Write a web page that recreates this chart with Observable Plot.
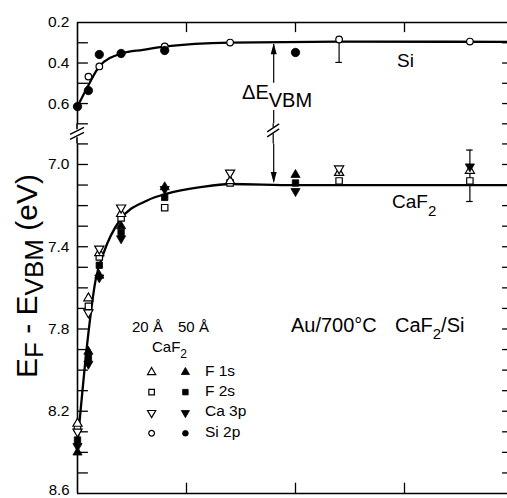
<!DOCTYPE html>
<html><head><meta charset="utf-8">
<script src="https://cdn.jsdelivr.net/npm/d3@7"></script>
<script src="https://cdn.jsdelivr.net/npm/@observablehq/plot@0.6"></script>
<style>
html,body{margin:0;padding:0;background:#fff;overflow:hidden}
#chart svg{display:block}
</style></head><body><div id="chart"></div>
<script>
// ---------------- data ----------------
// Si 2p (upper panel)
const siOpenX   = [0.1, 0.2, 0.8, 1.4, 2.4, 3.6];
const siOpenY   = [0.467, 0.417, 0.318, 0.299, 0.284, 0.294];
const siFilledX = [0, 0.1, 0.2, 0.4, 0.8, 2.0];
const siFilledY = [0.615, 0.536, 0.358, 0.353, 0.338, 0.348];
const siCurveX  = [0, 0.1, 0.2, 0.41, 0.6, 0.81, 1.4, 2.4, 4.0];
const siCurveY  = [0.615, 0.51, 0.417, 0.352, 0.335, 0.318, 0.299, 0.294, 0.296];
const siErrX    = [2.4];
const siErrLow  = [0.284];
const siErrHigh = [0.397];

// CaF2 (lower panel) - 20 Å open, 50 Å filled
const f1s20X  = [0, 0.1, 0.2, 0.4, 1.4, 2.4, 3.6];
const f1s20Y  = [8.26, 7.65, 7.43, 7.24, 7.08, 7.04, 7.03];
const f2s20X  = [0, 0.1, 0.2, 0.4, 0.8, 1.4, 2.4, 3.6];
const f2s20Y  = [8.28, 7.69, 7.45, 7.26, 7.21, 7.09, 7.08, 7.08];
const ca3p20X = [0, 0.1, 0.2, 0.4, 1.4, 2.4];
const ca3p20Y = [8.30, 7.72, 7.41, 7.21, 7.04, 7.02];
const f1s50X  = [0, 0.1, 0.2, 0.4, 0.8, 2.0];
const f1s50Y  = [8.40, 7.91, 7.54, 7.30, 7.11, 7.05];
const f2s50X  = [0, 0.1, 0.2, 0.4, 0.8, 2.0];
const f2s50Y  = [8.34, 7.94, 7.49, 7.33, 7.16, 7.09];
const ca3p50X = [0, 0.1, 0.2, 0.4, 0.8, 2.0, 3.6];
const ca3p50Y = [8.37, 7.97, 7.55, 7.36, 7.12, 7.13, 7.01];
const cafCurveX = [0, 0.1, 0.165, 0.24, 0.39, 0.64, 0.83, 1.13, 1.4, 2.0, 4.0];
const cafCurveY = [8.36, 7.82, 7.565, 7.43, 7.27, 7.175, 7.14, 7.11, 7.095, 7.10, 7.10];
const cafErrX    = [3.6];
const cafErrLow  = [6.93];
const cafErrHigh = [7.18];

// axis ticks
const yTicks  = [0.3, 0.4, 0.5, 0.6, 0.7, 6.9, 7.0, 7.1, 7.2, 7.3, 7.4, 7.5, 7.6, 7.7, 7.8, 7.9, 8.0, 8.1, 8.2, 8.3, 8.4, 8.5];
const yLabels = [0.2, 0.4, 0.6, 7.0, 7.4, 7.8, 8.2, 8.6];
const xTicks  = [1, 2, 3];

// legend
const legendCols = ["20 Å", "50 Å"];
const legendRows = ["F 1s", "F 2s", "Ca 3p", "Si 2p"];

// ---------------- broken y axis: map the two segments onto one linear scale ----------------
const T = v => v < 3 ? v : 0.7992 + (v - 6.9) * 1.0148;
const X_DOMAIN = [0, 4], X_RANGE = [77, 513];
const Y_DOMAIN = [0.2, T(8.6)], Y_RANGE = [22, 493];
const xs = d3.scaleLinear(X_DOMAIN, X_RANGE);
const ylin = d3.scaleLinear(Y_DOMAIN, Y_RANGE);
const ys = v => ylin(T(v));

const FONT = '"Liberation Sans", Arial, Helvetica, sans-serif';
const zip = (a, b) => a.map((x, i) => ({x, y: b[i]}));
const Y = d => T(d.y);

const triangleDown = {draw(ctx, size) {
  const y = -Math.sqrt(size / (Math.sqrt(3) * 3));
  ctx.moveTo(0, -y * 2);
  ctx.lineTo(-Math.sqrt(3) * y, y);
  ctx.lineTo(Math.sqrt(3) * y, y);
  ctx.closePath();
}};
const arrowUp = {draw(ctx) { ctx.moveTo(0, 0); ctx.lineTo(-3, 11); ctx.lineTo(3, 11); ctx.closePath(); }};
const arrowDown = {draw(ctx) { ctx.moveTo(0, 0); ctx.lineTo(-3, -11); ctx.lineTo(3, -11); ctx.closePath(); }};

const open = {fill: "white", stroke: "black", strokeWidth: 1.2};
const full = {fill: "black", stroke: "black", strokeWidth: 0.8};
const LW = 1.6;

// legend symbol placement (data units)
const legX = [0.68, 0.99];
const legY = [8.01, 8.107, 8.208, 8.307];
const legSym = [["triangle", "triangle"], ["square", "square"], [triangleDown, triangleDown], ["circle", "circle"]];
const legR = [3.4, 3.6, 3.4, 3.0];
const legendDots = [];
legSym.forEach((row, i) => row.forEach((s, j) => legendDots.push({x: legX[j], y: legY[i], s, filled: j === 1, r: legR[i]})));

const plot = Plot.plot({
  width: 507, height: 498, margin: 0,
  style: {fontFamily: FONT, background: "white", color: "black"},
  x: {domain: X_DOMAIN, range: X_RANGE, axis: null},
  y: {domain: Y_DOMAIN, range: Y_RANGE, axis: null},
  marks: [
    // frame
    Plot.ruleY([0.2, 8.6], {y: d => T(d), x1: 0, x2: 4, stroke: "black", strokeWidth: LW}),
    Plot.ruleX([0], {y1: T(0.2), y2: T(0.7), stroke: "black", strokeWidth: LW}),
    Plot.ruleX([0], {y1: T(6.9), y2: T(8.6), stroke: "black", strokeWidth: LW}),
    Plot.ruleX([4], {y1: T(0.2), y2: T(8.6), stroke: "black", strokeWidth: LW}),
    // ticks
    Plot.ruleY(yTicks, {y: d => T(d), x1: 0, x2: 0.1, stroke: "black", strokeWidth: 1.3}),
    Plot.ruleY(yTicks, {y: d => T(d), x1: 3.9, x2: 4, stroke: "black", strokeWidth: 1.3}),
    Plot.ruleX(xTicks, {y1: T(0.2), y2: T(0.25), stroke: "black", strokeWidth: 1.3}),
    Plot.ruleX(xTicks, {y1: T(8.55), y2: T(8.6), stroke: "black", strokeWidth: 1.3}),
    Plot.text(yLabels.slice(0, -1), {x: 0, y: d => T(d), text: d => d.toFixed(1), textAnchor: "end", dx: -8, fontSize: 15.5, fill: "black"}),
    Plot.text(yLabels.slice(-1), {x: 0, y: d => T(d), text: d => d.toFixed(1), textAnchor: "end", dx: -8, dy: -3, fontSize: 15, fill: "black"}),
    // curves
    Plot.line(zip(siCurveX, siCurveY), {x: "x", y: Y, curve: "monotone-x", stroke: "black", strokeWidth: 2.3}),
    Plot.line(zip(cafCurveX, cafCurveY), {x: "x", y: Y, curve: "monotone-x", stroke: "black", strokeWidth: 2.3}),
    // error bars
    Plot.ruleX(siErrX.map((x, i) => ({x, y1: siErrLow[i], y2: siErrHigh[i]})), {x: "x", y1: d => T(d.y1), y2: d => T(d.y2), strokeWidth: 1.2}),
    Plot.ruleY(siErrX.map((x, i) => ({x, y: siErrHigh[i]})), {y: Y, x1: d => d.x - 0.03, x2: d => d.x + 0.03, strokeWidth: 1.2}),
    Plot.ruleX(cafErrX.map((x, i) => ({x, y1: cafErrLow[i], y2: cafErrHigh[i]})), {x: "x", y1: d => T(d.y1), y2: d => T(d.y2), strokeWidth: 1.2}),
    Plot.ruleY(cafErrX.flatMap((x, i) => [{x, y: cafErrLow[i]}, {x, y: cafErrHigh[i]}]), {y: Y, x1: d => d.x - 0.03, x2: d => d.x + 0.03, strokeWidth: 1.2}),
    // data symbols
    Plot.dot(zip(siOpenX, siOpenY), {x: "x", y: Y, symbol: "circle", r: 3.3, ...open}),
    Plot.dot(zip(siFilledX, siFilledY), {x: "x", y: Y, symbol: "circle", r: 4.2, ...full}),
    Plot.dot(zip(f2s20X, f2s20Y), {x: "x", y: Y, symbol: "square", r: 3.6, ...open}),
    Plot.dot(zip(f1s20X, f1s20Y), {x: "x", y: Y, symbol: "triangle", r: 3.4, ...open}),
    Plot.dot(zip(ca3p20X, ca3p20Y), {x: "x", y: Y, symbol: triangleDown, r: 3.4, ...open}),
    Plot.dot(zip(f2s50X, f2s50Y), {x: "x", y: Y, symbol: "square", r: 3.6, ...full}),
    Plot.dot(zip(f1s50X, f1s50Y), {x: "x", y: Y, symbol: "triangle", r: 3.4, ...full}),
    Plot.dot(zip(ca3p50X, ca3p50Y), {x: "x", y: Y, symbol: triangleDown, r: 3.4, ...full}),
    // ΔE arrow (shafts + heads)
    Plot.ruleX([1.8], {y1: T(0.309), y2: T(0.5), strokeWidth: 1.2}),
    Plot.ruleX([1.8], {y1: T(0.634), y2: T(0.7), strokeWidth: 1.2}),
    Plot.ruleX([1.8], {y1: T(6.9), y2: T(7.085), strokeWidth: 1.2}),
    Plot.dot([{x: 1.8, y: 0.303}], {x: "x", y: Y, symbol: arrowUp, fill: "black", stroke: "none"}),
    Plot.dot([{x: 1.8, y: 7.09}], {x: "x", y: Y, symbol: arrowDown, fill: "black", stroke: "none"}),
    // legend symbols
    Plot.dot(legendDots.filter(d => !d.filled), {x: "x", y: Y, symbol: "s", r: "r", ...open}),
    Plot.dot(legendDots.filter(d => d.filled), {x: "x", y: Y, symbol: "s", r: "r", ...full})
  ]
});
document.getElementById("chart").appendChild(plot);

// ---------------- annotations (text with subscripts, axis breaks) ----------------
const svg = d3.select(plot);
const g = svg.append("g").attr("font-family", FONT).attr("fill", "black");

function label(x, y, parts, size, opts = {}) {
  const t = g.append("text").attr("x", x).attr("y", y).attr("font-size", size)
    .attr("text-anchor", opts.anchor || "start");
  if (opts.transform) t.attr("transform", opts.transform);
  let shift = 0;
  parts.forEach(p => {
    const s = t.append("tspan").text(p.t);
    const want = p.sub || 0;
    if (want !== shift) { s.attr("dy", want - shift); shift = want; }
    if (p.size) s.attr("font-size", p.size);
    if (p.dx) s.attr("dx", p.dx);
  });
  return t;
}

label(xs(2.936), ys(0.422), [{t: "Si"}], 19);
label(xs(2.89), ys(7.214), [{t: "CaF"}, {t: "2", sub: 8, size: 15}], 19);
label(xs(1.514), ys(0.58), [{t: "ΔE"}, {t: "VBM", sub: 8}], 20);
label(xs(1.963), ys(7.817), [{t: "Au/700°C"}], 20);
label(xs(2.917), ys(7.817), [{t: "CaF"}, {t: "2", sub: 7, size: 15}, {t: "/Si", sub: 0}], 20);

// legend texts
label(xs(0.505), ys(7.817), [{t: legendCols[0]}], 15);
label(xs(0.927), ys(7.817), [{t: legendCols[1]}], 15);
label(xs(0.688), ys(7.914), [{t: "CaF"}, {t: "2", sub: 6, size: 12}], 15);
const rowBase = [8.031, 8.128, 8.226, 8.327];
legendRows.forEach((r, i) => label(xs(1.174), ys(rowBase[i]), [{t: r}], 15.5));

// y-axis title
label(0, 0, [
  {t: "E"}, {t: "F", sub: 6, size: 26},
  {t: " - ", sub: 0}, {t: "E"}, {t: "VBM", sub: 6, size: 26},
  {t: " (eV)", sub: 0}
], 30, {anchor: "middle", transform: "translate(37,276) rotate(-90)"});

// axis break on left axis and on the arrow
const gapMid = (ys(0.7) + ys(6.9)) / 2;
const bk = svg.append("g").attr("stroke", "black").attr("fill", "none");
const x0 = xs(0);
bk.append("line").attr("x1", x0).attr("x2", x0).attr("y1", ys(0.7)).attr("y2", gapMid - 4).attr("stroke-width", LW);
bk.append("line").attr("x1", x0).attr("x2", x0).attr("y1", gapMid + 4).attr("y2", ys(6.9)).attr("stroke-width", LW);
[-2.5, 2.5].forEach(o => bk.append("line").attr("x1", x0 - 7).attr("x2", x0 + 7)
  .attr("y1", gapMid + o + 3.5).attr("y2", gapMid + o - 3.5).attr("stroke-width", 1.5));
const xa = xs(1.8), am = gapMid - 3;
bk.append("line").attr("x1", xa).attr("x2", xa).attr("y1", ys(0.7)).attr("y2", am - 3).attr("stroke-width", 1.2);
bk.append("line").attr("x1", xa).attr("x2", xa).attr("y1", am + 3).attr("y2", ys(6.9)).attr("stroke-width", 1.2);
[-2.5, 2.5].forEach(o => bk.append("line").attr("x1", xa - 6).attr("x2", xa + 6)
  .attr("y1", am + o + 4).attr("y2", am + o - 4).attr("stroke-width", 1.4));
</script>
</body></html>
